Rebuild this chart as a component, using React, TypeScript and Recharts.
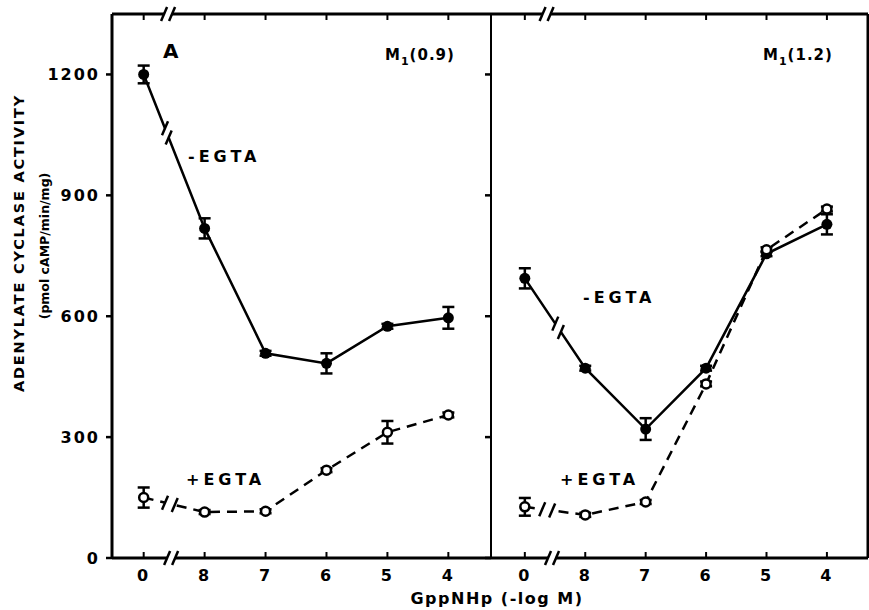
import React from "react";
import { LineChart, Line, XAxis, YAxis, ErrorBar, ReferenceDot } from "recharts";

// x categories: GppNHp (-log M), 0 = no GppNHp
const xLabels = ["0", "8", "7", "6", "5", "4"];
const yTicks = [0, 300, 600, 900, 1200];

// panel A, M1(0.9)
const leftMinus = [1200, 818, 508, 483, 575, 596];
const leftMinusErr = [22, 25, 6, 25, 6, 27];
const leftPlus = [150, 114, 116, 218, 312, 355];
const leftPlusErr = [25, 5, 5, 5, 28, 6];

// M1(1.2)
const rightMinus = [694, 471, 320, 471, 755, 828];
const rightMinusErr = [25, 6, 27, 6, 6, 25];
const rightPlus = [127, 107, 139, 432, 765, 866];
const rightPlusErr = [22, 5, 5, 6, 6, 6];

const H = 610;
const TOP_H = 14;
const BOTTOM_H = 52;
const Y_MAX = 1350;
const PLOT_H = H - TOP_H - BOTTOM_H;
const FONT = "'DejaVu Sans', sans-serif";

const LEFT_DOMAIN: [number, number] = [-0.52, 5.7];
const RIGHT_DOMAIN: [number, number] = [-0.56, 5.68];
const LEFT_PLOT_W = 379;
const RIGHT_PLOT_W = 377;

const build = (minus: number[], minusErr: number[], plus: number[], plusErr: number[]) =>
  xLabels.map((l, i) => ({ pos: i, label: l, minus: minus[i], minusErr: minusErr[i], plus: plus[i], plusErr: plusErr[i] }));

const leftData = build(leftMinus, leftMinusErr, leftPlus, leftPlusErr);
const rightData = build(rightMinus, rightMinusErr, rightPlus, rightPlusErr);

const FilledDot = (p: any) => <circle key={`f${p.index}`} cx={p.cx} cy={p.cy} r={5.5} fill="#000" />;
const OpenDot = (p: any) => (
  <circle key={`o${p.index}`} cx={p.cx} cy={p.cy} r={4.5} fill="#fff" stroke="#000" strokeWidth={2.5} />
);

function BreakMark({ cx, cy, angle, gap = 5 }: { cx: number; cy: number; angle: number; gap?: number }) {
  const rad = (angle * Math.PI) / 180;
  const ux = Math.cos(rad);
  const uy = Math.sin(rad);
  return (
    <g>
      <line x1={cx - ux * gap} y1={cy - uy * gap} x2={cx + ux * gap} y2={cy + uy * gap} stroke="#fff" strokeWidth={7} />
      {[-gap, gap].map((s) => (
        <line key={s} x1={cx + ux * s - 3} y1={cy + uy * s + 7} x2={cx + ux * s + 3} y2={cy + uy * s - 7} stroke="#000" strokeWidth={2.5} />
      ))}
    </g>
  );
}

// break on the line between "0" and "8", placed at fraction f of that segment
function lineBreak(values: number[], f: number, domain: [number, number], plotW: number, key: string) {
  const pxX = plotW / (domain[1] - domain[0]);
  const pxY = PLOT_H / Y_MAX;
  const angle = (Math.atan2(-(values[1] - values[0]) * pxY, pxX) * 180) / Math.PI;
  return (
    <ReferenceDot
      key={key}
      xAxisId="b"
      yAxisId="l"
      x={f}
      y={values[0] + f * (values[1] - values[0])}
      r={0}
      ifOverflow="visible"
      shape={(p: any) => <BreakMark cx={p.cx} cy={p.cy} angle={angle} />}
    />
  );
}

function axisBreak(x: number, y: number, key: string) {
  return (
    <ReferenceDot
      key={key}
      xAxisId="b"
      yAxisId="l"
      x={x}
      y={y}
      r={0}
      ifOverflow="visible"
      shape={(p: any) => <BreakMark cx={p.cx} cy={p.cy} angle={0} gap={4} />}
    />
  );
}

const tickFont = { fontSize: 16, fontWeight: 700, fill: "#000", fontFamily: FONT, letterSpacing: 2 };
const axisLine = { stroke: "#000", strokeWidth: 3 };
const blank = () => "";

function Panel({ data, domain, width, left, leftAxisW, rightAxisW, showY, breaks }: any) {
  return (
    <div style={{ position: "absolute", left, top: 0 }}>
      <LineChart width={width} height={H} data={data} margin={{ top: 0, right: 0, bottom: 0, left: 0 }}>
        <XAxis
          xAxisId="t"
          orientation="top"
          type="number"
          dataKey="pos"
          domain={domain}
          allowDataOverflow
          ticks={[0, 1, 2, 3, 4, 5]}
          height={TOP_H}
          tickSize={-6}
          tickFormatter={blank}
          axisLine={axisLine}
          tickLine={{ stroke: "#000", strokeWidth: 2 }}
        />
        <XAxis
          xAxisId="b"
          type="number"
          dataKey="pos"
          domain={domain}
          allowDataOverflow
          ticks={[0, 1, 2, 3, 4, 5]}
          height={BOTTOM_H}
          tickSize={-6}
          tickMargin={18}
          tickFormatter={(v: number) => xLabels[v]}
          tick={tickFont}
          axisLine={axisLine}
          tickLine={{ stroke: "#000", strokeWidth: 2 }}
        />
        <YAxis
          yAxisId="l"
          domain={[0, Y_MAX]}
          ticks={yTicks}
          width={leftAxisW}
          tickSize={6}
          tickMargin={6}
          tickFormatter={showY ? undefined : blank}
          tick={tickFont}
          axisLine={showY ? axisLine : { stroke: "#000", strokeWidth: 2 }}
          tickLine={{ stroke: "#000", strokeWidth: 2.5 }}
        />
        <YAxis
          yAxisId="r"
          orientation="right"
          domain={[0, Y_MAX]}
          ticks={yTicks}
          width={rightAxisW}
          tickSize={showY ? 6 : -6}
          tickFormatter={blank}
          axisLine={showY ? { stroke: "#000", strokeWidth: 2 } : axisLine}
          tickLine={{ stroke: "#000", strokeWidth: 2.5 }}
        />
        <Line
          xAxisId="b"
          yAxisId="l"
          type="linear"
          dataKey="minus"
          stroke="#000"
          strokeWidth={2.5}
          dot={FilledDot}
          activeDot={false}
          isAnimationActive={false}
        >
          <ErrorBar dataKey="minusErr" direction="y" width={6} strokeWidth={2.5} stroke="#000" />
        </Line>
        <Line
          xAxisId="b"
          yAxisId="l"
          type="linear"
          dataKey="plus"
          stroke="#000"
          strokeWidth={2.5}
          strokeDasharray="10 7"
          dot={OpenDot}
          activeDot={false}
          isAnimationActive={false}
        >
          <ErrorBar dataKey="plusErr" direction="y" width={6} strokeWidth={2.5} stroke="#000" />
        </Line>
        {breaks}
      </LineChart>
    </div>
  );
}

const labelStyle = { fontFamily: FONT, fontWeight: 700, fill: "#000" } as const;

export default function App() {
  return (
    <div style={{ position: "absolute", left: 0, top: 0, width: 869, height: H, background: "#fff", overflow: "hidden" }}>
      <Panel
        data={leftData}
        domain={LEFT_DOMAIN}
        width={500}
        left={0}
        leftAxisW={112}
        rightAxisW={9}
        showY
        breaks={[
          lineBreak(leftMinus, 0.38, LEFT_DOMAIN, LEFT_PLOT_W, "lm"),
          lineBreak(leftPlus, 0.43, LEFT_DOMAIN, LEFT_PLOT_W, "lp"),
          axisBreak(0.45, 0, "lb"),
          axisBreak(0.4, Y_MAX, "lt"),
        ]}
      />
      <Panel
        data={rightData}
        domain={RIGHT_DOMAIN}
        width={387}
        left={482}
        leftAxisW={9}
        rightAxisW={1}
        showY={false}
        breaks={[
          lineBreak(rightMinus, 0.55, RIGHT_DOMAIN, RIGHT_PLOT_W, "rm"),
          lineBreak(rightPlus, 0.37, RIGHT_DOMAIN, RIGHT_PLOT_W, "rp"),
          axisBreak(0.45, 0, "rb"),
          axisBreak(0.36, Y_MAX, "rt"),
        ]}
      />
      <svg width={869} height={H} style={{ position: "absolute", left: 0, top: 0, pointerEvents: "none" }}>
        <text
          {...labelStyle}
          fontSize={14.5}
          letterSpacing={1.8}
          textAnchor="middle"
          dominantBaseline="central"
          transform="translate(19,243) rotate(-90)"
        >
          ADENYLATE CYCLASE ACTIVITY
        </text>
        <text
          {...labelStyle}
          fontSize={12.5}
          letterSpacing={0}
          textAnchor="middle"
          dominantBaseline="central"
          transform="translate(44,246) rotate(-90)"
        >
          (pmol cAMP/min/mg)
        </text>
        <text {...labelStyle} fontSize={16} letterSpacing={1.5} x={497} y={604} textAnchor="middle">
          GppNHp (-log M)
        </text>
        <text {...labelStyle} fontSize={20} x={163} y={58}>
          A
        </text>
        <text {...labelStyle} fontSize={15} letterSpacing={1} x={385} y={60}>
          M<tspan fontSize={11} dy={5}>1</tspan>
          <tspan dy={-5}>(0.9)</tspan>
        </text>
        <text {...labelStyle} fontSize={15} letterSpacing={1} x={763} y={60}>
          M<tspan fontSize={11} dy={5}>1</tspan>
          <tspan dy={-5}>(1.2)</tspan>
        </text>
        <text {...labelStyle} fontSize={16} letterSpacing={4} x={188} y={162}>
          -EGTA
        </text>
        <text {...labelStyle} fontSize={16} letterSpacing={4} x={186} y={485}>
          +EGTA
        </text>
        <text {...labelStyle} fontSize={16} letterSpacing={4} x={583} y={303}>
          -EGTA
        </text>
        <text {...labelStyle} fontSize={16} letterSpacing={4} x={560} y={485}>
          +EGTA
        </text>
      </svg>
    </div>
  );
}
